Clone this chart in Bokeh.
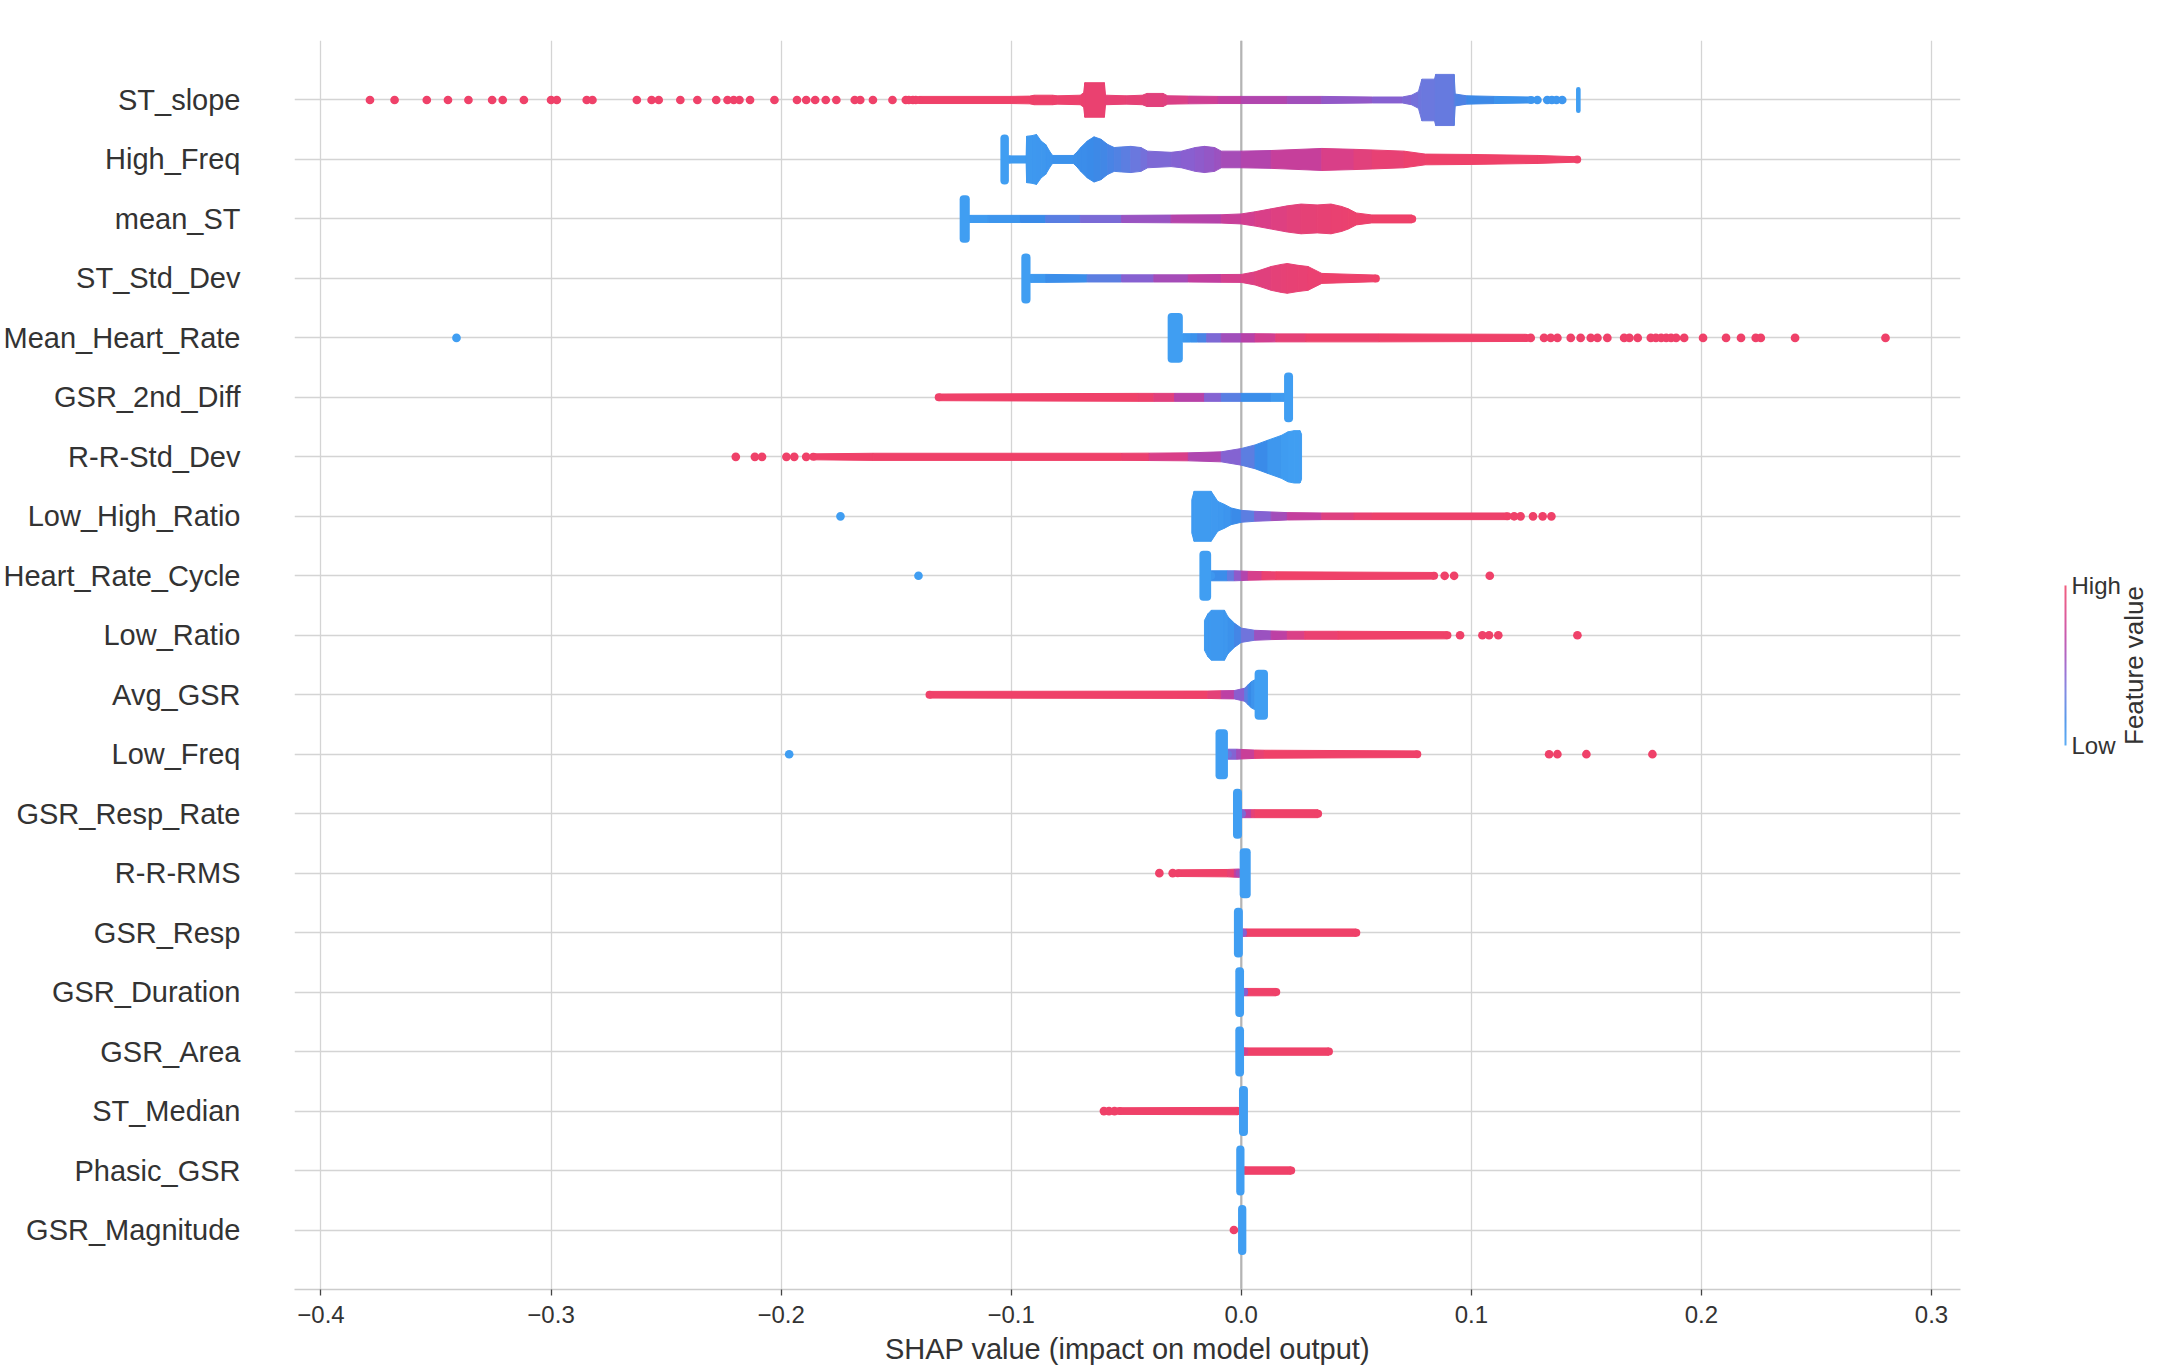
import math
import numpy as np
from bokeh.plotting import figure
from bokeh.layouts import row
from bokeh.models import FixedTicker, CustomJSTickFormatter, Span
from bokeh.core.properties import value
from bokeh.embed import file_html
from bokeh.resources import INLINE

# ---------------- data ----------------
features = ["ST_slope", "High_Freq", "mean_ST", "ST_Std_Dev", "Mean_Heart_Rate",
            "GSR_2nd_Diff", "R-R-Std_Dev", "Low_High_Ratio", "Heart_Rate_Cycle",
            "Low_Ratio", "Avg_GSR", "Low_Freq", "GSR_Resp_Rate", "R-R-RMS",
            "GSR_Resp", "GSR_Duration", "GSR_Area", "ST_Median", "Phasic_GSR",
            "GSR_Magnitude"]
x_ticks = [-0.4, -0.3, -0.2, -0.1, 0.0, 0.1, 0.2, 0.3]
colorbar_tick_text = ["Low", "High"]
colorbar_tick_value = [0, 1]
colorbar_title = "Feature value"

# dense beeswarm body: (SHAP value, half thickness in rows, feature value 0..1)
band_ST_slope = [(-0.140, 0.06, 1.00), (-0.100, 0.06, 1.00), (-0.092, 0.065, 1.00),
                 (-0.090, 0.08, 0.99), (-0.082, 0.08, 0.98), (-0.080, 0.07, 0.98),
                 (-0.070, 0.08, 0.97), (-0.0685, 0.12, 0.96), (-0.068, 0.29, 0.96),
                 (-0.0595, 0.29, 0.95), (-0.059, 0.08, 0.94), (-0.050, 0.07, 0.92),
                 (-0.043, 0.08, 0.90), (-0.041, 0.11, 0.89), (-0.034, 0.11, 0.87),
                 (-0.032, 0.07, 0.86), (-0.023, 0.065, 0.80), (-0.010, 0.06, 0.72),
                 (0.000, 0.06, 0.66), (0.020, 0.06, 0.58), (0.035, 0.06, 0.52),
                 (0.057, 0.05, 0.45), (0.070, 0.05, 0.42), (0.074, 0.08, 0.38),
                 (0.077, 0.14, 0.35), (0.0785, 0.35, 0.33), (0.084, 0.35, 0.33),
                 (0.0845, 0.43, 0.32), (0.0925, 0.43, 0.30), (0.093, 0.10, 0.25),
                 (0.098, 0.07, 0.20), (0.110, 0.06, 0.12), (0.126, 0.05, 0.06)]
band_High_Freq = [(-0.1010, 0.06, 0.02), (-0.0935, 0.06, 0.03), (-0.0933, 0.39, 0.04),
                  (-0.0910, 0.40, 0.04), (-0.0890, 0.42, 0.05), (-0.0870, 0.31, 0.05),
                  (-0.0850, 0.25, 0.06), (-0.0830, 0.12, 0.07), (-0.0820, 0.067, 0.08),
                  (-0.0730, 0.067, 0.10), (-0.0715, 0.12, 0.11), (-0.0698, 0.20, 0.12),
                  (-0.0669, 0.31, 0.13), (-0.0640, 0.38, 0.15), (-0.0610, 0.34, 0.17),
                  (-0.0580, 0.25, 0.19), (-0.0552, 0.20, 0.22), (-0.0520, 0.21, 0.25),
                  (-0.0480, 0.22, 0.30), (-0.0436, 0.20, 0.35), (-0.0407, 0.14, 0.38),
                  (-0.0305, 0.12, 0.42), (-0.0260, 0.14, 0.43), (-0.0200, 0.20, 0.46),
                  (-0.0160, 0.22, 0.48), (-0.0116, 0.20, 0.51), (-0.0087, 0.14, 0.54),
                  (0.0000, 0.14, 0.60), (0.0130, 0.15, 0.66), (0.0350, 0.185, 0.78),
                  (0.0490, 0.17, 0.86), (0.0570, 0.16, 0.90), (0.0707, 0.14, 0.96),
                  (0.0800, 0.09, 0.98), (0.1000, 0.084, 1.0), (0.1290, 0.067, 1.0),
                  (0.1460, 0.045, 1.0)]
band_mean_ST = [(-0.1180, 0.06, 0.02), (-0.1100, 0.06, 0.04), (-0.0960, 0.06, 0.10),
                (-0.0850, 0.06, 0.20), (-0.0700, 0.06, 0.33), (-0.0520, 0.06, 0.45),
                (-0.0305, 0.065, 0.58), (-0.0087, 0.07, 0.70), (0.0000, 0.084, 0.76),
                (0.0060, 0.12, 0.80), (0.0130, 0.17, 0.84), (0.0200, 0.22, 0.87),
                (0.0260, 0.25, 0.90), (0.0330, 0.235, 0.92), (0.0390, 0.25, 0.94),
                (0.0436, 0.21, 0.95), (0.0465, 0.17, 0.96), (0.0500, 0.10, 0.97),
                (0.0567, 0.067, 0.98), (0.0743, 0.067, 1.0)]
band_ST_Std_Dev = [(-0.0916, 0.067, 0.03), (-0.0850, 0.067, 0.06), (-0.0670, 0.06, 0.18),
                   (-0.0520, 0.06, 0.37), (-0.0380, 0.06, 0.50), (-0.0230, 0.06, 0.63),
                   (-0.0087, 0.065, 0.76), (0.0000, 0.067, 0.82), (0.0060, 0.11, 0.86),
                   (0.0130, 0.20, 0.89), (0.0174, 0.235, 0.91), (0.0200, 0.25, 0.92),
                   (0.0247, 0.22, 0.93), (0.0290, 0.20, 0.94), (0.0350, 0.084, 0.96),
                   (0.0585, 0.056, 1.0)]
band_Mean_Heart_Rate = [(-0.0254, 0.07, 0.03), (-0.0220, 0.07, 0.06), (-0.0190, 0.07, 0.12),
                        (-0.0150, 0.07, 0.30), (-0.0087, 0.07, 0.50), (0.0000, 0.07, 0.60),
                        (0.0060, 0.07, 0.70), (0.0150, 0.067, 0.85), (0.0280, 0.067, 0.97),
                        (0.0600, 0.067, 1.0), (0.1240, 0.06, 1.0)]
band_GSR_2nd_Diff = [(-0.1315, 0.056, 1.0), (-0.0450, 0.067, 1.0), (-0.0380, 0.067, 0.95),
                     (-0.0290, 0.067, 0.80), (-0.0160, 0.067, 0.50), (-0.0087, 0.067, 0.35),
                     (0.0000, 0.067, 0.18), (0.0130, 0.067, 0.06), (0.0186, 0.067, 0.02)]
band_RR_Std_Dev = [(-0.1860, 0.05, 1.0), (-0.1600, 0.06, 1.0), (-0.0520, 0.06, 1.0),
                   (-0.0400, 0.062, 0.92), (-0.0230, 0.067, 0.72), (-0.0087, 0.084, 0.50),
                   (0.0000, 0.14, 0.35), (0.0060, 0.20, 0.20), (0.0116, 0.28, 0.08),
                   (0.0174, 0.36, 0.03), (0.0203, 0.42, 0.0), (0.0230, 0.44, 0.0),
                   (0.0255, 0.44, 0.0), (0.0262, 0.38, 0.0)]
band_Low_High_Ratio = [(-0.0215, 0.28, 0.02), (-0.0205, 0.42, 0.02), (-0.0131, 0.42, 0.03),
                       (-0.0102, 0.25, 0.04), (-0.0073, 0.20, 0.05), (-0.0044, 0.14, 0.08),
                       (0.0000, 0.10, 0.20), (0.0058, 0.084, 0.35), (0.0130, 0.073, 0.50),
                       (0.0200, 0.062, 0.62), (0.0350, 0.056, 0.80), (0.0490, 0.056, 0.92),
                       (0.0570, 0.056, 0.97), (0.1157, 0.056, 1.0)]
band_Heart_Rate_Cycle = [(-0.0131, 0.084, 0.05), (-0.0060, 0.084, 0.20), (-0.0030, 0.084, 0.40),
                         (0.0000, 0.08, 0.55), (0.0030, 0.075, 0.70), (0.0090, 0.07, 0.90),
                         (0.0150, 0.067, 1.0), (0.0838, 0.056, 1.0)]
band_Low_Ratio = [(-0.0160, 0.25, 0.03), (-0.0145, 0.36, 0.03), (-0.0130, 0.42, 0.04),
                  (-0.0073, 0.42, 0.05), (-0.0058, 0.31, 0.06), (-0.0029, 0.20, 0.12),
                  (0.0000, 0.12, 0.25), (0.0058, 0.084, 0.45), (0.0130, 0.073, 0.60),
                  (0.0200, 0.067, 0.75), (0.0276, 0.067, 0.90), (0.0420, 0.067, 1.0),
                  (0.0896, 0.06, 1.0)]
band_Avg_GSR = [(-0.1355, 0.056, 1.0), (-0.0145, 0.062, 1.0), (-0.0087, 0.067, 0.80),
                (-0.0030, 0.07, 0.55), (0.0015, 0.11, 0.35), (0.0030, 0.17, 0.20),
                (0.0044, 0.22, 0.10), (0.0058, 0.25, 0.05)]
band_Low_Freq = [(-0.0058, 0.084, 0.35), (-0.0020, 0.084, 0.50), (0.0000, 0.08, 0.62),
                 (0.0058, 0.07, 0.85), (0.0100, 0.067, 1.0), (0.0765, 0.056, 1.0)]
band_GSR_Resp_Rate = [(0.0003, 0.067, 0.40), (0.0015, 0.067, 0.55), (0.0044, 0.067, 0.80),
                      (0.0060, 0.067, 1.0), (0.0334, 0.067, 1.0)]
band_RR_RMS = [(-0.0276, 0.056, 1.0), (-0.0060, 0.062, 1.0), (-0.0030, 0.067, 0.85),
               (-0.0007, 0.07, 0.55)]
band_GSR_Resp = [(0.0007, 0.062, 0.45), (0.0025, 0.062, 1.0), (0.0500, 0.062, 1.0)]
band_GSR_Duration = [(0.0012, 0.062, 0.45), (0.0030, 0.062, 1.0), (0.0152, 0.062, 1.0)]
band_GSR_Area = [(0.0012, 0.062, 0.80), (0.0030, 0.062, 1.0), (0.0381, 0.062, 1.0)]
band_ST_Median = [(-0.0530, 0.056, 1.0), (-0.0014, 0.062, 1.0)]
band_Phasic_GSR = [(0.0014, 0.062, 1.0), (0.0217, 0.062, 1.0)]
band_GSR_Magnitude = []

# tall stacks of low-value points: (left, right, half thickness in rows, feature value)
cap_feature = ["ST_slope", "High_Freq", "mean_ST", "ST_Std_Dev", "Mean_Heart_Rate",
               "GSR_2nd_Diff", "Heart_Rate_Cycle", "Avg_GSR", "Low_Freq", "GSR_Resp_Rate",
               "R-R-RMS", "GSR_Resp", "GSR_Duration", "GSR_Area", "ST_Median",
               "Phasic_GSR", "GSR_Magnitude"]
cap_left = [0.1455, -0.1047, -0.1224, -0.0956, -0.0320, 0.0186, -0.0182, 0.0058, -0.0112,
            -0.0036, -0.0007, -0.0032, -0.0026, -0.0026, -0.0010, -0.0022, -0.0014]
cap_right = [0.1475, -0.1010, -0.1180, -0.0916, -0.0254, 0.0225, -0.0131, 0.0116, -0.0058,
             0.0003, 0.0041, 0.0007, 0.0012, 0.0012, 0.0029, 0.0014, 0.0022]
cap_half = [0.22, 0.42, 0.40, 0.42, 0.42, 0.42, 0.42, 0.42, 0.42,
            0.42, 0.42, 0.42, 0.42, 0.42, 0.42, 0.42, 0.42]
cap_value = [0.0] * 17

# isolated points: (SHAP value, feature value)
dots_ST_slope = [(-0.3787, 1), (-0.368, 1), (-0.354, 1), (-0.3448, 1), (-0.3359, 1),
                 (-0.3256, 1), (-0.321, 1), (-0.3118, 1), (-0.300, 1), (-0.2975, 1),
                 (-0.2845, 1), (-0.282, 1), (-0.2627, 1), (-0.2563, 1), (-0.2532, 1),
                 (-0.2438, 1), (-0.2364, 1), (-0.2282, 1), (-0.2233, 1), (-0.2206, 1),
                 (-0.2181, 1), (-0.2135, 1), (-0.2029, 1), (-0.1931, 1), (-0.1891, 1),
                 (-0.1852, 1), (-0.1806, 1), (-0.176, 1), (-0.168, 1), (-0.1656, 1),
                 (-0.1601, 1), (-0.1516, 1), (-0.1458, 1), (-0.1445, 1), (-0.1427, 1),
                 (-0.1415, 1), (0.1287, 0.05), (0.133, 0.05), (0.135, 0.05),
                 (0.137, 0.05), (0.1395, 0.05)]
dots_Mean_Heart_Rate = [(-0.3411, 0), (0.1258, 1), (0.1316, 1), (0.1345, 1), (0.1374, 1),
                        (0.1432, 1), (0.1475, 1), (0.1519, 1), (0.1548, 1), (0.1591, 1),
                        (0.1664, 1), (0.1687, 1), (0.1723, 1), (0.178, 1), (0.1802, 1),
                        (0.1825, 1), (0.1847, 1), (0.1868, 1), (0.189, 1), (0.1925, 1),
                        (0.2007, 1), (0.2107, 1), (0.2172, 1), (0.2236, 1), (0.2258, 1),
                        (0.2407, 1), (0.280, 1)]
dots_RR_Std_Dev = [(-0.2197, 1), (-0.2114, 1), (-0.2083, 1), (-0.1977, 1), (-0.1943, 1),
                   (-0.1891, 1)]
dots_Low_High_Ratio = [(-0.1742, 0), (0.1186, 1), (0.1214, 1), (0.1268, 1), (0.131, 1),
                       (0.1348, 1)]
dots_Heart_Rate_Cycle = [(-0.1403, 0), (0.0884, 1), (0.0925, 1), (0.108, 1)]
dots_Low_Ratio = [(0.0951, 1), (0.1048, 1), (0.1077, 1), (0.1117, 1), (0.1461, 1)]
dots_Low_Freq = [(-0.1965, 0), (0.1338, 1), (0.1374, 1), (0.150, 1), (0.1787, 1)]
dots_RR_RMS = [(-0.0356, 1), (-0.0298, 1)]
dots_ST_Median = [(-0.0597, 1), (-0.0575, 1), (-0.0551, 1)]
dots_GSR_Magnitude = [(-0.0032, 1)]

bands = {"ST_slope": band_ST_slope, "High_Freq": band_High_Freq, "mean_ST": band_mean_ST,
         "ST_Std_Dev": band_ST_Std_Dev, "Mean_Heart_Rate": band_Mean_Heart_Rate,
         "GSR_2nd_Diff": band_GSR_2nd_Diff, "R-R-Std_Dev": band_RR_Std_Dev,
         "Low_High_Ratio": band_Low_High_Ratio, "Heart_Rate_Cycle": band_Heart_Rate_Cycle,
         "Low_Ratio": band_Low_Ratio, "Avg_GSR": band_Avg_GSR, "Low_Freq": band_Low_Freq,
         "GSR_Resp_Rate": band_GSR_Resp_Rate, "R-R-RMS": band_RR_RMS,
         "GSR_Resp": band_GSR_Resp, "GSR_Duration": band_GSR_Duration,
         "GSR_Area": band_GSR_Area, "ST_Median": band_ST_Median,
         "Phasic_GSR": band_Phasic_GSR, "GSR_Magnitude": band_GSR_Magnitude}
dots = {"ST_slope": dots_ST_slope, "Mean_Heart_Rate": dots_Mean_Heart_Rate,
        "R-R-Std_Dev": dots_RR_Std_Dev, "Low_High_Ratio": dots_Low_High_Ratio,
        "Heart_Rate_Cycle": dots_Heart_Rate_Cycle, "Low_Ratio": dots_Low_Ratio,
        "Low_Freq": dots_Low_Freq, "R-R-RMS": dots_RR_RMS, "ST_Median": dots_ST_Median,
        "GSR_Magnitude": dots_GSR_Magnitude}

# ---------------- style ----------------
FONT = "Liberation Sans"
TEXT = "#333333"
STOPS = [(0.00, (64, 158, 242)), (0.15, (58, 138, 232)), (0.33, (107, 120, 222)),
         (0.45, (138, 94, 207)), (0.58, (168, 74, 181)), (0.68, (190, 63, 163)),
         (0.80, (214, 63, 140)), (0.90, (228, 65, 120)), (1.00, (239, 65, 105))]


def color_of(c):
    c = min(max(float(c), 0.0), 1.0)
    for (c0, k0), (c1, k1) in zip(STOPS, STOPS[1:]):
        if c <= c1:
            t = (c - c0) / (c1 - c0)
            return "#%02x%02x%02x" % tuple(int(round(a + (b - a) * t)) for a, b in zip(k0, k1))
    return "#%02x%02x%02x" % STOPS[-1][1]


n = len(features)
row_of = {f: n - 1 - i for i, f in enumerate(features)}

p = figure(frame_width=1666, frame_height=1249,
           x_range=(-0.4115, 0.3126), y_range=(-1, n),
           min_border_left=286, min_border_right=94, min_border_top=40,
           min_border_bottom=60, toolbar_location=None, output_backend="svg",
           background_fill_color="white", border_fill_color="white")
p.outline_line_color = None

# axes
p.xaxis.ticker = FixedTicker(ticks=x_ticks)
p.xaxis.formatter = CustomJSTickFormatter(code="return tick.toFixed(1).replace('-', '\u2212');")
p.xaxis.axis_label = "SHAP value (impact on model output)"
p.xaxis.axis_label_text_font = FONT
p.xaxis.axis_label_text_font_size = "29px"
p.xaxis.axis_label_text_font_style = "normal"
p.xaxis.axis_label_text_color = TEXT
p.xaxis.axis_label_standoff = 7
p.xaxis.major_label_text_font = FONT
p.xaxis.major_label_text_font_size = "24px"
p.xaxis.major_label_text_color = TEXT
p.xaxis.major_label_standoff = 10
p.xaxis.axis_line_color = "#cccccc"
p.xaxis.axis_line_width = 1.3
p.xaxis.major_tick_line_color = "#444444"
p.xaxis.major_tick_line_width = 1.3
p.xaxis.major_tick_out = 6
p.xaxis.major_tick_in = 0
p.xaxis.minor_tick_line_color = None

p.yaxis.ticker = FixedTicker(ticks=list(range(n)))
p.yaxis.major_label_overrides = {row_of[f]: f for f in features}
p.yaxis.major_label_text_font = FONT
p.yaxis.major_label_text_font_size = "29px"
p.yaxis.major_label_text_color = TEXT
p.yaxis.major_label_standoff = 48
p.yaxis.axis_line_color = None
p.yaxis.major_tick_line_color = None
p.yaxis.minor_tick_line_color = None

for g in (p.xgrid, p.ygrid):
    g.grid_line_color = "#d4d4d4"
    g.grid_line_width = 1.3

p.add_layout(Span(location=0, dimension="height", line_color="#b4b4b4",
                  line_width=2.2, level="underlay"))

# beeswarm bodies
pxs, pys, pcs = [], [], []
for name, band in bands.items():
    y = row_of[name]
    for (xa, ha, ca), (xb, hb, cb) in zip(band, band[1:]):
        pxs.append([xa, xb, xb, xa])
        pys.append([y + ha, y + hb, y - hb, y - ha])
        pcs.append(color_of((ca + cb) / 2))
p.patches(xs=pxs, ys=pys, fill_color=pcs, line_color=pcs, line_width=1)

# rounded ends of bodies
ex, ey, ec = [], [], []
for name, band in bands.items():
    if band:
        for (x, h, c) in (band[0], band[-1]):
            if h < 0.1:
                ex.append(x); ey.append(row_of[name]); ec.append(color_of(c))
p.scatter(x=ex, y=ey, size=8, fill_color=ec, line_color=None)

# stacked caps
p.quad(left=cap_left, right=cap_right,
       bottom=[row_of[f] - h for f, h in zip(cap_feature, cap_half)],
       top=[row_of[f] + h for f, h in zip(cap_feature, cap_half)],
       fill_color=[color_of(c) for c in cap_value], line_color=None, border_radius=4)

# isolated points
dx, dy, dc = [], [], []
for name, pts in dots.items():
    for (x, c) in pts:
        dx.append(x); dy.append(row_of[name]); dc.append(color_of(c))
p.scatter(x=dx, y=dy, size=8.7, fill_color=dc, line_color=None)

# ---------------- colour bar panel ----------------
# x in pixels from the panel's left edge, y in feature-value units (0 = bar bottom, 1 = top)
q = figure(frame_width=116, frame_height=1289, x_range=(0, 116), y_range=(-3.65, 4.406),
           x_axis_location=None, y_axis_location=None, toolbar_location=None,
           title=None, output_backend="svg", min_border=0,
           background_fill_color="white", border_fill_color="white")
q.outline_line_color = None
q.xgrid.visible = False
q.ygrid.visible = False

palette = [color_of(i / 255) for i in range(256)]
gradient = np.linspace(0.0, 1.0, 256).reshape(256, 1)
q.image(image=[gradient], x=10, y=0, dw=2, dh=1, palette=palette, global_alpha=0.85)

q.text(x=[17] * len(colorbar_tick_text), y=colorbar_tick_value, text=colorbar_tick_text,
       text_font=value(FONT), text_font_size=value("24px"), text_color=TEXT,
       text_align="left", text_baseline="middle")
q.text(x=[79], y=[0.5], text=[colorbar_title], angle=math.pi / 2,
       text_font=value(FONT), text_font_size=value("26px"), text_color=TEXT,
       text_align="center", text_baseline="middle")

layout = row(p, q, spacing=0)
open("out.html", "w").write(file_html(layout, INLINE))
